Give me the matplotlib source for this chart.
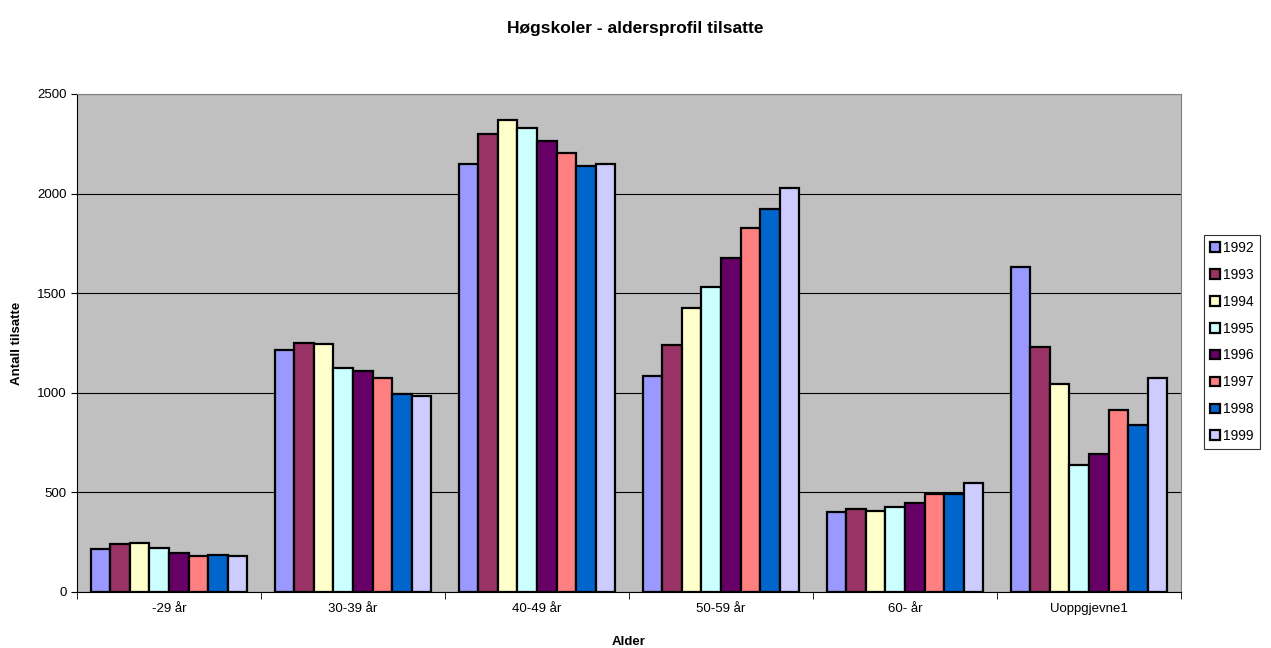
import numpy as np
import matplotlib.pyplot as plt

plt.rcParams['font.family'] = ['Liberation Sans', 'DejaVu Sans']

categories = ["-29 år", "30-39 år", "40-49 år", "50-59 år", "60- år", "Uoppgjevne1"]
years = ["1992", "1993", "1994", "1995", "1996", "1997", "1998", "1999"]
values = {
    "1992": [214, 1213, 2148, 1085, 400, 1630],
    "1993": [240, 1250, 2300, 1238, 415, 1232],
    "1994": [245, 1245, 2368, 1428, 405, 1043],
    "1995": [222, 1122, 2328, 1530, 425, 638],
    "1996": [194, 1110, 2262, 1675, 445, 694],
    "1997": [180, 1073, 2202, 1826, 490, 915],
    "1998": [187, 992, 2140, 1925, 490, 838],
    "1999": [180, 982, 2148, 2027, 545, 1073],
}
colors = ["#9999FF", "#993366", "#FFFFCC", "#CCFFFF",
          "#660066", "#FF8080", "#0066CC", "#CCCCFF"]

fig = plt.figure(figsize=(12.71, 6.48), dpi=100)
ax = fig.add_axes([77/1271, 1 - 592/648, (1181-77)/1271, (592-94)/648])
ax.set_facecolor("#C0C0C0")

x = np.arange(len(categories))
w = 0.106
for i, yr in enumerate(years):
    ax.bar(x + (i - 3.5) * w, values[yr], w, color=colors[i],
           edgecolor="black", linewidth=1.6, label=yr, zorder=3)

ax.set_xlim(-0.5, len(categories) - 0.5)
ax.set_ylim(0, 2500)
ax.set_yticks(range(0, 2501, 500))
ax.yaxis.grid(True, color="black", linewidth=0.8, zorder=0)
ax.set_xticks(x)
ax.set_xticklabels(categories, fontsize=9.5)
ax.set_xticks(np.arange(-0.5, len(categories)), minor=True)
ax.tick_params(axis='x', which='major', length=0, pad=8)
ax.tick_params(axis='x', which='minor', length=5, direction='out')
ax.tick_params(axis='y', labelsize=9.5, length=4)
for s in ["top", "right"]:
    ax.spines[s].set_color("#808080")
ax.spines["left"].set_color("black")
ax.spines["bottom"].set_color("black")

ax.set_xlabel("Alder", fontsize=9.5, fontweight="bold", labelpad=15)
ax.set_ylabel("Antall tilsatte", fontsize=9.5, fontweight="bold", labelpad=10)
fig.suptitle("Høgskoler - aldersprofil tilsatte", fontsize=12.5,
             fontweight="bold", y=0.967)

leg = ax.legend(loc="center left", bbox_to_anchor=(1197/1271, 1 - 342/648),
                bbox_transform=fig.transFigure, fontsize=10, frameon=True,
                fancybox=False, edgecolor="black", handlelength=0.7,
                handleheight=0.7, handletextpad=0.25, labelspacing=0.93,
                borderpad=0.45)
leg.get_frame().set_linewidth(0.8)

fig.savefig("out.png", dpi=100)
